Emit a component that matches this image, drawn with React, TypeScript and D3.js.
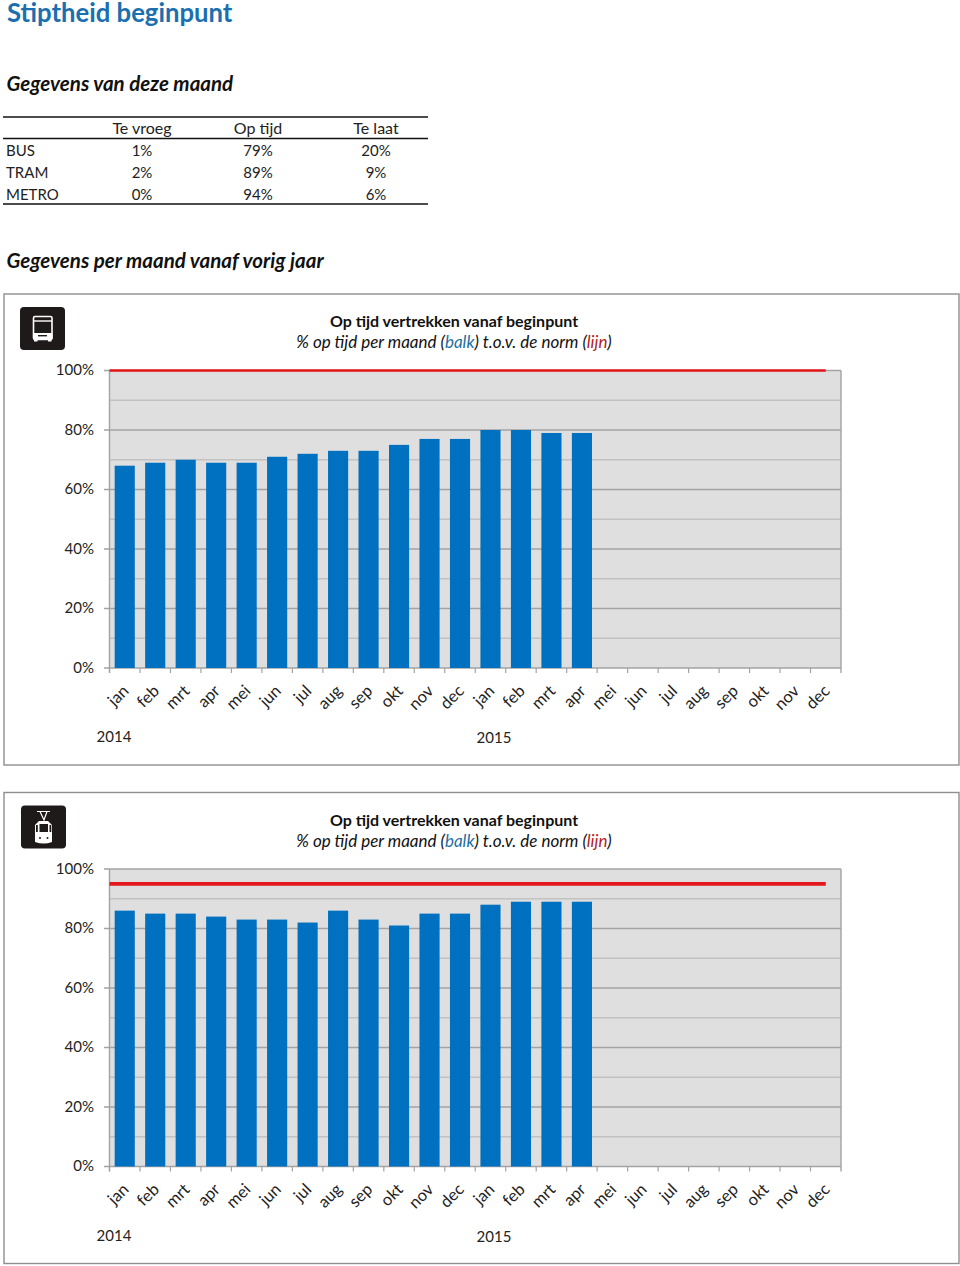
import React from "react";
import * as d3 from "d3";

const months = ["jan","feb","mrt","apr","mei","jun","jul","aug","sep","okt","nov","dec","jan","feb","mrt","apr","mei","jun","jul","aug","sep","okt","nov","dec"];
const busValues = [68,69,70,69,69,71,72,73,73,75,77,77,80,80,79,79];
const tramValues = [86,85,85,84,83,83,82,86,83,81,85,85,88,89,89,89];
const busNorm = 100;
const tramNorm = 95;
const yTicks = [0,20,40,60,80,100];
const minorTicks = [10,30,50,70,90];
const tableHeaders = ["Te vroeg","Op tijd","Te laat"];
const tableRows = ["BUS","TRAM","METRO"];
const tableEarly = ["1%","2%","0%"];
const tableOnTime = ["79%","89%","94%"];
const tableLate = ["20%","9%","6%"];

const FONT = "Lato, Carlito, sans-serif";
const keys = months.map((_, i) => String(i));
const x = d3.scaleBand<string>().domain(keys).range([109.5, 841]).paddingInner(0.34).paddingOuter(0.17);
const step = x.step();

function BusIcon() {
  return (
    <g fill="none" stroke="#fff">
      <rect x="33.5" y="316.5" width="18.5" height="23" rx="1.5" strokeWidth="1.6" />
      <line x1="33.5" y1="321" x2="52" y2="321" strokeWidth="1.4" />
      <rect x="33" y="333" width="19.5" height="6" fill="#fff" stroke="none" />
      <rect x="34" y="339" width="3.5" height="2.5" fill="#fff" stroke="none" />
      <rect x="48" y="339" width="3.5" height="2.5" fill="#fff" stroke="none" />
      <rect x="38" y="335" width="9" height="1.4" fill="#1f1a1a" stroke="none" />
    </g>
  );
}

function TramIcon() {
  return (
    <g>
      <path d="M37 811.5 H50 M40 811.5 L44 820 L47 811.5" fill="none" stroke="#fff" strokeWidth="1.2" />
      <path d="M39 821 H48 L52 825 V842 Q44 845 35 842 V825 Z" fill="#fff" />
      <rect x="39.5" y="824" width="8.5" height="8" fill="#1f1a1a" />
      <rect x="36" y="825" width="1.8" height="7" fill="#1f1a1a" />
      <rect x="49.5" y="825" width="1.8" height="7" fill="#1f1a1a" />
      <circle cx="40" cy="838" r="1" fill="#1f1a1a" />
      <circle cx="47.5" cy="838" r="1" fill="#1f1a1a" />
    </g>
  );
}

function Panel({ top, values, norm, normWidth, tram }: { top: number; values: number[]; norm: number; normWidth: number; tram: boolean }) {
  const y0 = top + 76.5;
  const y = d3.scaleLinear().domain([0, 100]).range([y0 + 297.5, y0]);
  const left = 109.5, right = 841;
  const lastC = (x(keys[23]) as number) + x.bandwidth() / 2;
  const line = d3.line<number>().x((d) => d[0]).y((d) => d[1]);
  const tick = y(0);
  return (
    <g fontFamily={FONT}>
      <rect x={4} y={top} width={955} height={471} fill="#fff" stroke="#8f8f8f" strokeWidth={1.4} />
      <rect x={left} y={y(100)} width={right - left} height={y(0) - y(100)} fill="#dfdfdf" />
      {minorTicks.map((t) => <line key={t} x1={left} x2={right} y1={y(t)} y2={y(t)} stroke="#c2c2c2" strokeWidth={1.3} />)}
      {yTicks.map((t) => <line key={t} x1={104} x2={right} y1={y(t)} y2={y(t)} stroke="#a3a3a3" strokeWidth={1.4} />)}
      <line x1={left} x2={left} y1={y(100)} y2={tick + 5} stroke="#a3a3a3" strokeWidth={1.4} />
      <line x1={right} x2={right} y1={y(100)} y2={tick + 5} stroke="#a3a3a3" strokeWidth={1.4} />
      {keys.map((k, i) => <line key={k} x1={left + i * step} x2={left + i * step} y1={tick} y2={tick + 5} stroke="#a3a3a3" strokeWidth={1.2} />)}
      {values.map((v, i) => (
        <rect key={i} x={x(keys[i])} y={y(v)} width={x.bandwidth()} height={y(0) - y(v)} fill="#0070c0" />
      ))}
      <path d={line([[left, y(norm)], [lastC, y(norm)]] as any) as string} stroke="#e3161b" strokeWidth={normWidth} fill="none" />
      {yTicks.map((t) => (
        <text key={t} x={94} y={y(t) + 4.5} textAnchor="end" fontSize={15} fill="#222">{t}%</text>
      ))}
      {months.map((m, i) => {
        const cx = (x(keys[i]) as number) + x.bandwidth() / 2 + 2;
        return (
          <text key={i} transform={`translate(${cx},${tick + 21}) rotate(-45)`} textAnchor="end" dominantBaseline="middle" fontSize={16.5} fill="#222">{m}</text>
        );
      })}
      <text x={114} y={top + 448} textAnchor="middle" fontSize={15} fill="#222">2014</text>
      <text x={494} y={top + 449} textAnchor="middle" fontSize={15} fill="#222">2015</text>
      <text x={454} y={top + 33} textAnchor="middle" fontSize={16} fontWeight={700} fill="#111">Op tijd vertrekken vanaf beginpunt</text>
      <text x={454} y={top + 54} textAnchor="middle" fontSize={17} fontStyle="italic" fill="#111">
        % op tijd per maand (<tspan fill="#1f6f9f">balk</tspan>) t.o.v. de norm (<tspan fill="#b01e23">lijn</tspan>)
      </text>
      <rect x={tram ? 21 : 20} y={top + 13} width={45} height={43} rx={4} fill="#1f1a1a" />
      {tram ? <TramIcon /> : <BusIcon />}
    </g>
  );
}

export default function App() {
  const colX = [142, 258, 376];
  const rowY = [156, 178, 200];
  return (
    <svg width={960} height={1266} style={{ position: "absolute", left: 0, top: 0 }} fontFamily={FONT}>
      <text x={7} y={22} fontSize={25.7} fontWeight={700} fill="#1a6fb0">Stiptheid beginpunt</text>
      <text x={6.5} y={91} fontSize={20.5} fontWeight={700} fontStyle="italic" fill="#111">Gegevens van deze maand</text>
      <line x1={3} x2={428} y1={117} y2={117} stroke="#111" strokeWidth={1.6} />
      <line x1={3} x2={428} y1={138.5} y2={138.5} stroke="#111" strokeWidth={1.6} />
      <line x1={3} x2={428} y1={204} y2={204} stroke="#111" strokeWidth={1.6} />
      {tableHeaders.map((h, i) => <text key={h} x={colX[i]} y={134} textAnchor="middle" fontSize={16} fill="#222">{h}</text>)}
      {tableRows.map((r, i) => (
        <g key={r} fontSize={15} fill="#222">
          <text x={6} y={rowY[i]}>{r}</text>
          <text x={colX[0]} y={rowY[i]} textAnchor="middle">{tableEarly[i]}</text>
          <text x={colX[1]} y={rowY[i]} textAnchor="middle">{tableOnTime[i]}</text>
          <text x={colX[2]} y={rowY[i]} textAnchor="middle">{tableLate[i]}</text>
        </g>
      ))}
      <text x={6.5} y={268} fontSize={20.5} fontWeight={700} fontStyle="italic" fill="#111">Gegevens per maand vanaf vorig jaar</text>
      <Panel top={294} values={busValues} norm={busNorm} normWidth={2.4} tram={false} />
      <Panel top={792.5} values={tramValues} norm={tramNorm} normWidth={3.6} tram={true} />
    </svg>
  );
}
